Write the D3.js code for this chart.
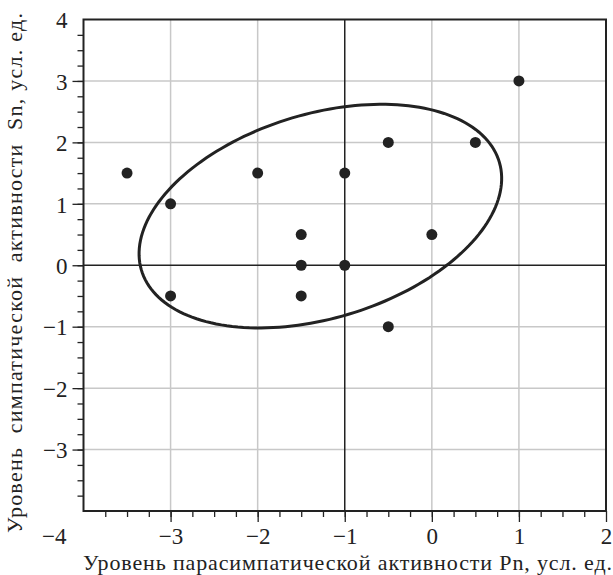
<!DOCTYPE html>
<html>
<head>
<meta charset="utf-8">
<script src="https://cdn.jsdelivr.net/npm/d3@7"></script>
<style>
  body { margin: 0; background: #fff; }
  svg { display: block; font-family: "Liberation Serif", "Times New Roman", serif; }
  .grid line { stroke: #c8c8c8; stroke-width: 1.5; }
  .axis path { display: none; }
  .axis line { stroke: #222; stroke-width: 1.3; }
  .axis text { fill: #222; font-size: 23px; font-family: "Liberation Serif", serif; }
</style>
</head>
<body>
<div id="chart"></div>
<script>
// scatter points: parasympathetic (Pn) vs sympathetic (Sn) levels
const pnValues = [-3.5, -3, -3, -2, -1.5, -1.5, -1.5, -1, -1, -0.5, -0.5, 0, 0.5, 1];
const snValues = [1.5, 1, -0.5, 1.5, 0.5, 0, -0.5, 1.5, 0, 2, -1, 0.5, 2, 3];

// scattering ellipse (data units): centre, semi-axes, rotation in degrees
const ellipseCentre = [-1.28, 0.80];
const ellipseRadii = [2.28, 1.565];
const ellipseAngle = 34.1;

const xTicks = [-3, -2, -1, 0, 1, 2];
const yTicks = [-3, -2, -1, 0, 1, 2, 3, 4];
const xGrid = [-3, -2, 0, 1];
const yGrid = [-3, -2, -1, 1, 2, 3];

const xTitle = 'Уровень парасимпатической активности Pn, усл. ед.';
const yTitle = 'Уровень  симпатической  активности  Sn, усл. ед.';

const W = 613, H = 575;
const margin = {top: 19.5, right: 7, bottom: 64, left: 83.5};
const width = W - margin.left - margin.right;
const height = H - margin.top - margin.bottom;

const svg = d3.select('#chart').append('svg')
    .attr('width', W)
    .attr('height', H);

const g = svg.append('g')
    .attr('transform', 'translate(' + margin.left + ',' + margin.top + ')');

const x = d3.scaleLinear().domain([-4, 2]).range([0, width]);
const y = d3.scaleLinear().domain([-4, 4]).range([height, 0]);

// grid
g.append('g').attr('class', 'grid')
    .selectAll('line').data(xGrid).enter().append('line')
    .attr('x1', d => x(d)).attr('x2', d => x(d))
    .attr('y1', 0).attr('y2', height);
g.append('g').attr('class', 'grid')
    .selectAll('line').data(yGrid).enter().append('line')
    .attr('x1', 0).attr('x2', width)
    .attr('y1', d => y(d)).attr('y2', d => y(d));

// cross lines at Pn = -1 and Sn = 0
g.append('line')
    .attr('x1', x(-1)).attr('x2', x(-1))
    .attr('y1', 0).attr('y2', height)
    .attr('stroke', '#222').attr('stroke-width', 1.5);
g.append('line')
    .attr('x1', 0).attr('x2', width)
    .attr('y1', y(0)).attr('y2', y(0))
    .attr('stroke', '#222').attr('stroke-width', 1.5);

// minor ticks
g.append('g').attr('class', 'axis')
    .attr('transform', 'translate(0,' + height + ')')
    .call(d3.axisBottom(x).tickValues(d3.range(-3.75, 2, 0.25)).tickSize(6).tickFormat(''));
g.append('g').attr('class', 'axis')
    .call(d3.axisLeft(y).tickValues(d3.range(-3.75, 4, 0.25)).tickSize(6).tickFormat(''));

// major ticks with labels
const xAxis = g.append('g').attr('class', 'axis')
    .attr('transform', 'translate(0,' + height + ')')
    .call(d3.axisBottom(x).tickValues(xTicks).tickSize(11).tickPadding(6).tickFormat(d3.format('d')));

const yAxis = g.append('g').attr('class', 'axis')
    .call(d3.axisLeft(y).tickValues(yTicks).tickSize(11).tickPadding(5).tickFormat(d3.format('d')));
yAxis.selectAll('.tick').filter(d => d === 4).select('line').remove();
yAxis.selectAll('.tick text').attr('dy', '0.36em');

// corner label -4 sits on the x label row
g.append('text')
    .attr('x', -17)
    .attr('y', height + 17)
    .attr('dy', '0.71em')
    .attr('text-anchor', 'end')
    .attr('fill', '#222')
    .style('font-size', '23px')
    .text(d3.format('d')(-4));

// frame
g.append('rect')
    .attr('width', width).attr('height', height)
    .attr('fill', 'none').attr('stroke', '#222').attr('stroke-width', 2);

// ellipse
const rot = ellipseAngle * Math.PI / 180;
const ellipsePts = d3.range(0, 2 * Math.PI + 0.001, Math.PI / 90).map(t => {
  const ex = ellipseRadii[0] * Math.cos(t), ey = ellipseRadii[1] * Math.sin(t);
  return [ellipseCentre[0] + ex * Math.cos(rot) - ey * Math.sin(rot),
          ellipseCentre[1] + ex * Math.sin(rot) + ey * Math.cos(rot)];
});
g.append('path')
    .datum(ellipsePts)
    .attr('fill', 'none')
    .attr('stroke', '#222')
    .attr('stroke-width', 3)
    .attr('d', d3.line().x(d => x(d[0])).y(d => y(d[1])).curve(d3.curveLinearClosed));

// points
g.selectAll('.dot')
    .data(pnValues.map((p, i) => ({pn: p, sn: snValues[i]})))
    .enter().append('circle')
    .attr('class', 'dot')
    .attr('cx', d => x(d.pn))
    .attr('cy', d => y(d.sn))
    .attr('r', 5.5)
    .attr('fill', '#222');

// axis titles
svg.append('text')
    .attr('x', 83)
    .attr('y', 570)
    .attr('fill', '#222')
    .attr('textLength', 529)
    .attr('lengthAdjust', 'spacing')
    .style('font-size', '22px')
    .text(xTitle);

svg.append('text')
    .attr('transform', 'translate(22,533) rotate(-90)')
    .attr('fill', '#222')
    .attr('textLength', 520)
    .attr('lengthAdjust', 'spacing')
    .style('font-size', '22px')
    .style('white-space', 'pre')
    .text(yTitle);
</script>
</body>
</html>
